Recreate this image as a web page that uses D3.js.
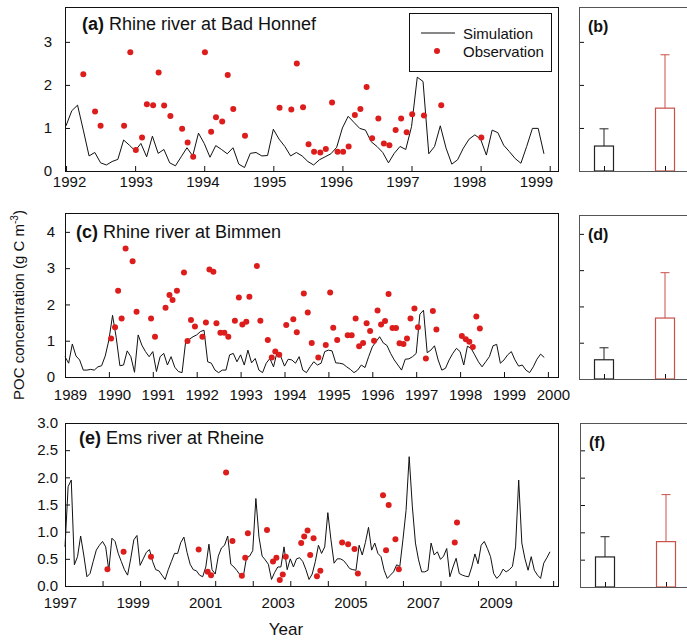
<!DOCTYPE html>
<html>
<head>
<meta charset="utf-8">
<script src="https://cdn.jsdelivr.net/npm/d3@7"></script>
<style>
  body { margin: 0; background: #fff; }
  svg { font-family: Arial, "Liberation Sans", sans-serif; }
</style>
</head>
<body>
<svg id="chart" width="687" height="640"></svg>
<script>
// ---- (a) Rhine river at Bad Honnef, monthly simulation from Jan 1992
const simStartA = 1992;
const simA = [
  1.05, 1.4, 1.53, 0.95, 0.35, 0.43, 0.19, 0.14, 0.22, 0.27, 0.72, 0.6,
  0.47, 0.64, 0.33, 0.81, 0.41, 0.5, 0.19, 0.12, 0.33, 0.54, 0.35, 0.88,
  0.64, 0.32, 0.59, 0.5, 0.4, 0.54, 0.16, 0.08, 0.41, 0.43, 0.35, 0.36,
  0.97, 0.74, 0.57, 0.35, 0.43, 0.35, 0.22, 0.14, 0.26, 0.33, 0.4, 0.55,
  1.0, 1.27, 1.13, 0.99, 0.95, 0.68, 0.57, 0.43, 0.19, 0.41, 0.57, 0.5,
  1.03, 2.18, 2.08, 0.4, 0.57, 1.05, 0.53, 0.16, 0.26, 0.53, 0.74, 0.84,
  0.74, 0.37, 0.95, 0.89, 0.6, 0.45, 0.29, 0.18, 0.57, 0.99, 0.99, 0.4
];
const obsYearsA = [
  1992.25, 1992.42, 1992.50, 1992.84, 1992.93, 1993.01, 1993.10, 1993.17, 1993.26, 1993.34,
  1993.42, 1993.51, 1993.68, 1993.76, 1993.84, 1994.01, 1994.10, 1994.17, 1994.26, 1994.34,
  1994.42, 1994.59, 1995.09, 1995.26, 1995.34, 1995.43, 1995.51, 1995.59, 1995.68, 1995.76,
  1995.85, 1995.93, 1996.01, 1996.09, 1996.18, 1996.26, 1996.35, 1996.43, 1996.52, 1996.60,
  1996.68, 1996.77, 1996.85, 1996.93, 1997.01, 1997.18, 1997.43, 1998.01
];
const obsA = [
  2.25, 1.38, 1.05, 1.05, 2.76, 0.49, 0.78, 1.55, 1.53, 2.29,
  1.52, 1.28, 0.98, 0.66, 0.33, 2.76, 0.91, 1.25, 1.15, 2.23,
  1.44, 0.82, 1.47, 1.43, 2.5, 1.48, 0.62, 0.45, 0.43, 0.51,
  1.59, 0.45, 0.45, 0.57, 1.30, 1.44, 1.95, 0.76, 1.22, 0.64,
  0.60, 0.95, 1.22, 0.9, 1.32, 1.29, 1.53, 0.78
];

// ---- (c) Rhine river at Bimmen, monthly simulation from Jan 1989
const simStartC = 1989;
const simC = [
  0.56, 0.38, 0.91, 0.58, 0.47, 0.19, 0.19, 0.21, 0.19, 0.28, 0.31, 0.58,
  1.02, 1.7, 1.09, 0.31, 0.33, 0.72, 0.56, 0.13, 1.16, 0.88, 0.70, 0.56,
  0.70, 0.15, 0.56, 0.65, 0.33, 0.56, 0.27, 0.15, 0.12, 0.99, 1.04, 1.11,
  1.16, 1.25, 1.29, 0.42, 0.38, 0.19, 0.12, 0.19, 0.19, 0.61, 0.65, 0.42,
  0.61, 0.33, 0.74, 0.39, 0.51, 0.19, 0.12, 0.38, 0.51, 0.28, 0.70, 0.56,
  0.30, 0.49, 0.47, 0.38, 0.56, 0.19, 0.12, 0.28, 0.42, 0.33, 0.38, 0.70,
  0.74, 0.72, 0.39, 0.38, 0.36, 0.28, 0.21, 0.12, 0.19, 0.33, 0.26, 0.56,
  0.83, 0.97, 1.11, 0.94, 0.87, 0.65, 0.47, 0.33, 0.19, 0.49, 0.50, 0.56,
  0.65, 1.73, 1.84, 0.67, 0.74, 0.86, 0.47, 0.19, 0.24, 0.47, 0.65, 0.79,
  0.70, 0.33, 0.85, 0.79, 0.61, 0.42, 0.28, 0.42, 0.56, 0.86, 0.90, 0.38,
  0.47, 0.61, 0.70, 0.47, 0.30, 0.33, 0.19, 0.12, 0.28, 0.49, 0.63, 0.54
];
const obsYearsC = [
  1990.05, 1990.14, 1990.21, 1990.29, 1990.38, 1990.54, 1990.63, 1990.96,
  1991.05, 1991.29, 1991.38, 1991.45, 1991.55, 1991.71, 1991.79, 1991.87, 1991.96,
  1992.13, 1992.21, 1992.29, 1992.38, 1992.45, 1992.54, 1992.63, 1992.72, 1992.87, 1992.96,
  1993.04, 1993.13, 1993.20, 1993.37, 1993.45, 1993.62, 1993.71, 1993.79, 1993.88,
  1994.04, 1994.20, 1994.28, 1994.44, 1994.53, 1994.62, 1994.77, 1994.94,
  1995.04, 1995.11, 1995.20, 1995.44, 1995.53, 1995.62, 1995.70, 1995.79, 1995.87, 1995.95,
  1996.04, 1996.12, 1996.20, 1996.29, 1996.37, 1996.46, 1996.54, 1996.62, 1996.71, 1996.79, 1996.87, 1996.96,
  1997.04, 1997.22, 1997.38, 1997.46,
  1998.04, 1998.13, 1998.21, 1998.29, 1998.37, 1998.45
];
const obsC = [
  1.06, 1.37, 2.38, 1.61, 3.54, 3.19, 1.80, 1.61,
  1.11, 1.91, 2.26, 2.12, 2.38, 2.88, 0.99, 1.57, 1.39,
  1.11, 1.50, 2.96, 2.90, 1.48, 1.22, 1.22, 1.11, 1.55, 2.19,
  1.45, 1.52, 2.21, 3.06, 1.55, 1.02, 0.54, 0.70, 0.61,
  1.43, 1.59, 1.23, 2.30, 1.78, 0.94, 0.54, 0.88,
  2.33, 1.36, 1.02, 1.15, 1.15, 1.61, 0.85, 0.94, 1.48, 1.27,
  1.00, 1.83, 1.45, 1.54, 2.29, 1.35, 1.35, 0.93, 0.91, 1.06, 1.61, 1.89,
  1.37, 0.51, 1.82, 1.31,
  1.13, 1.04, 0.97, 0.83, 1.67, 1.34
];

// ---- (e) Ems river at Rheine, monthly simulation from Jan 1997
const simStartE = 1997;
const simE = [
  0.72, 1.83, 1.95, 0.39, 0.54, 0.92, 0.57, 0.17, 0.23, 0.45, 0.66, 0.75,
  0.82, 0.72, 0.29, 0.88, 0.82, 0.6, 0.45, 0.3, 0.2, 0.5, 0.85, 0.93,
  0.38, 0.5, 0.62, 0.67, 0.45, 0.3, 0.28, 0.2, 0.12, 0.3, 0.45, 0.6,
  0.6, 0.8, 0.9, 0.62, 0.4, 0.3, 0.28, 0.2, 0.17, 0.35, 0.77, 0.3,
  0.22, 0.55, 0.7, 0.75, 0.92, 0.4, 0.35, 0.28, 0.2, 0.18, 0.52, 0.55,
  0.65, 1.61, 0.9, 0.55, 0.48, 0.4, 0.12, 0.25, 0.35, 0.35, 0.72, 0.3,
  0.5, 0.35, 0.5, 0.52, 0.45, 0.3, 0.12, 0.22, 0.45, 0.75, 0.6, 0.72,
  1.35, 0.85, 0.42, 0.5, 0.5, 0.47, 0.4, 0.32, 0.3, 0.29, 0.75, 0.57,
  0.8, 1.08, 0.66, 0.79, 0.6, 0.54, 0.29, 0.14, 0.2, 0.26, 0.39, 0.36,
  0.85, 1.39, 2.38, 1.47, 0.79, 0.48, 0.26, 0.26, 0.29, 0.79, 0.57, 0.63,
  0.49, 0.55, 0.69, 0.17, 0.35, 0.51, 0.23, 0.2, 0.18, 0.17, 0.35, 0.59,
  0.41, 0.75, 0.82, 0.69, 0.54, 0.23, 0.14, 0.2, 0.31, 0.26, 0.3, 0.36,
  0.72, 1.95, 0.79, 0.5, 0.29, 0.54, 0.29, 0.2, 0.14, 0.42, 0.52, 0.63
];
const obsYearsE = [
  1998.13, 1998.56, 1999.29, 2000.56, 2000.80, 2000.89, 2001.29, 2001.46, 2001.71, 2001.80,
  2001.87, 2002.38, 2002.54, 2002.63, 2002.72, 2002.80, 2002.88, 2003.29, 2003.37, 2003.46,
  2003.53, 2003.62, 2003.71, 2003.80, 2004.38, 2004.54, 2004.71, 2004.80, 2005.47, 2005.55,
  2005.62, 2005.80, 2005.89, 2007.38, 2007.44
];
const obsE = [
  0.31, 0.63, 0.54, 0.67, 0.26, 0.20, 2.09, 0.83, 0.19, 0.52,
  0.97, 1.03, 0.45, 0.52, 0.11, 0.21, 0.54, 0.79, 0.91, 1.02,
  0.57, 0.88, 0.18, 0.28, 0.80, 0.77, 0.68, 0.23, 1.67, 0.66,
  1.49, 0.86, 0.31, 0.80, 1.17
];

// ---- (b), (d), (f) mean and standard deviation
const barKeys = ["Simulation", "Observation"];
const meanB = [0.58, 1.46], sdB = [0.40, 1.24];
const meanD = [0.53, 1.68], sdD = [0.33, 1.25];
const meanF = [0.55, 0.83], sdF = [0.37, 0.86];

const lineColor = "#111";
const dotColor = "#dd1c1c";
const barColors = ["#222", "#c8504a"];

const svg = d3.select("#chart");

function styleAxis(g) {
  g.select(".domain").remove();
  g.attr("font-family", null).attr("font-size", 15);
  g.selectAll(".tick line").attr("stroke", "#111");
  g.selectAll(".tick text").attr("fill", "#111");
}

function linePanel(p) {
  const x = d3.scaleLinear().domain(p.xDomain).range([65, 558]);
  const y = d3.scaleLinear().domain(p.yDomain).range([p.bottom, p.top]);
  const g = svg.append("g");

  // year labels in the source sit a little off their ticks
  g.append("g")
    .attr("transform", `translate(0,${p.bottom})`)
    .call(d3.axisBottom(x).tickValues(p.xTicks).tickFormat(p.xFormat)
      .tickSizeInner(-5).tickSizeOuter(0).tickPadding(p.xPad))
    .call(styleAxis)
    .selectAll(".tick text").attr("dx", p.labelShift);

  g.append("g")
    .attr("transform", "translate(65,0)")
    .call(d3.axisLeft(y).tickValues(p.yTicks).tickFormat(p.yFormat)
      .tickSizeInner(-5).tickSizeOuter(0).tickPadding(p.yPad))
    .call(styleAxis);

  const sim = p.sim.map((v, i) => ({ year: p.start + i / 12, value: v }));
  g.append("path")
    .datum(sim)
    .attr("fill", "none")
    .attr("stroke", lineColor)
    .attr("stroke-width", 1)
    .attr("d", d3.line().x(d => x(d.year)).y(d => y(d.value)));

  g.selectAll("circle.obs")
    .data(p.obsYears.map((yr, i) => ({ year: yr, value: p.obs[i] })))
    .join("circle")
    .attr("class", "obs")
    .attr("cx", d => x(d.year))
    .attr("cy", d => y(d.value))
    .attr("r", 3)
    .attr("fill", dotColor);

  g.append("rect")
    .attr("x", 65).attr("y", p.top)
    .attr("width", 558 - 65).attr("height", p.bottom - p.top)
    .attr("fill", "none").attr("stroke", "#111").attr("stroke-width", 1)
    .attr("shape-rendering", "crispEdges");

  const t = g.append("text")
    .attr("x", p.titleX).attr("y", p.titleY)
    .attr("font-size", 18).attr("fill", "#111");
  t.append("tspan").attr("font-weight", "bold").text(p.tag);
  t.append("tspan").text(" " + p.title);
}

function barPanel(p) {
  const x = d3.scalePoint().domain(barKeys).range([p.left + 25, p.left + 86]);
  const y = d3.scaleLinear().domain(p.yDomain).range([p.bottom, p.top]);
  const g = svg.append("g");

  g.append("g")
    .attr("transform", `translate(${p.left},0)`)
    .call(d3.axisLeft(y).tickValues(p.yTicks).tickFormat("")
      .tickSizeInner(-5).tickSizeOuter(0))
    .call(styleAxis);

  g.append("g")
    .attr("transform", `translate(0,${p.bottom})`)
    .call(d3.axisBottom(x).tickFormat("").tickSizeInner(-5).tickSizeOuter(0))
    .call(styleAxis);

  const rows = barKeys.map((k, i) => ({ key: k, mean: p.mean[i], sd: p.sd[i], color: barColors[i] }));

  g.selectAll("line.err")
    .data(rows)
    .join("line")
    .attr("class", "err")
    .attr("x1", d => x(d.key)).attr("x2", d => x(d.key))
    .attr("y1", d => y(d.mean)).attr("y2", d => y(d.mean + d.sd))
    .attr("stroke", d => d.color);

  g.selectAll("line.cap")
    .data(rows)
    .join("line")
    .attr("class", "cap")
    .attr("x1", d => x(d.key) - 4.5).attr("x2", d => x(d.key) + 4.5)
    .attr("y1", d => y(d.mean + d.sd)).attr("y2", d => y(d.mean + d.sd))
    .attr("stroke", d => d.color);

  g.selectAll("rect.bar")
    .data(rows)
    .join("rect")
    .attr("class", "bar")
    .attr("x", d => x(d.key) - 9.5)
    .attr("width", 19)
    .attr("y", d => y(d.mean))
    .attr("height", d => p.bottom - y(d.mean))
    .attr("fill", "none")
    .attr("stroke", d => d.color)
    .attr("stroke-width", 1.2);

  g.append("rect")
    .attr("x", p.left).attr("y", p.top)
    .attr("width", 160).attr("height", p.bottom - p.top)
    .attr("fill", "none").attr("stroke", "#555").attr("stroke-width", 1)
    .attr("shape-rendering", "crispEdges");

  g.append("text")
    .attr("x", p.left + 9).attr("y", p.top + 25)
    .attr("font-size", 16).attr("font-weight", "bold").attr("fill", "#111")
    .text(p.tag);
}

linePanel({
  top: 7, bottom: 171, xDomain: [1991.985, 1999.12], yDomain: [0, 3.81],
  xTicks: d3.range(1992, 2000), xFormat: d3.format("d"), xPad: 5,
  labelShift: d => 3 - 2.4 * (d - 1992),
  yTicks: [0, 1, 2, 3], yFormat: d3.format("d"), yPad: 13,
  start: simStartA, sim: simA, obsYears: obsYearsA, obs: obsA,
  tag: "(a)", title: "Rhine river at Bad Honnef", titleX: 82, titleY: 30
});
linePanel({
  top: 213, bottom: 377, xDomain: [1989, 2000.23], yDomain: [0, 4.52],
  xTicks: d3.range(1989, 2001), xFormat: d3.format("d"), xPad: 12,
  labelShift: () => 5,
  yTicks: [0, 1, 2, 3, 4], yFormat: d3.format("d"), yPad: 10,
  start: simStartC, sim: simC, obsYears: obsYearsC, obs: obsC,
  tag: "(c)", title: "Rhine river at Bimmen", titleX: 76, titleY: 238
});
linePanel({
  top: 423, bottom: 586, xDomain: [1997, 2010.13], yDomain: [0, 3],
  xTicks: d3.range(1997, 2011), xFormat: d => (d % 2 ? d : ""), xPad: 11,
  labelShift: d => -5 - 1.25 * (d - 1997),
  yTicks: d3.range(0, 3.01, 0.5), yFormat: d3.format(".1f"), yPad: 7,
  start: simStartE, sim: simE, obsYears: obsYearsE, obs: obsE,
  tag: "(e)", title: "Ems river at Rheine", titleX: 79, titleY: 444
});

barPanel({ left: 579, top: 7, bottom: 171, yDomain: [0, 3.81], yTicks: [1, 2, 3], mean: meanB, sd: sdB, tag: "(b)" });
barPanel({ left: 579, top: 215, bottom: 379, yDomain: [0, 4.52], yTicks: [1, 2, 3, 4], mean: meanD, sd: sdD, tag: "(d)" });
barPanel({ left: 580, top: 423, bottom: 587, yDomain: [0, 3], yTicks: [0.5, 1, 1.5, 2, 2.5], mean: meanF, sd: sdF, tag: "(f)" });

// legend in panel (a)
const legend = svg.append("g");
legend.append("rect")
  .attr("x", 409).attr("y", 13).attr("width", 142).attr("height", 58)
  .attr("fill", "#fff").attr("stroke", "#111").attr("shape-rendering", "crispEdges");
legend.append("line")
  .attr("x1", 421).attr("x2", 455).attr("y1", 33).attr("y2", 33)
  .attr("stroke", lineColor);
legend.append("circle").attr("cx", 437).attr("cy", 51).attr("r", 3).attr("fill", dotColor);
legend.append("text").attr("x", 463).attr("y", 39).attr("font-size", 15).attr("fill", "#111").text("Simulation");
legend.append("text").attr("x", 463).attr("y", 57).attr("font-size", 15).attr("fill", "#111").text("Observation");

// axis titles
const yTitle = svg.append("text")
  .attr("transform", "translate(24,305) rotate(-90)")
  .attr("text-anchor", "middle")
  .attr("font-size", 15)
  .attr("fill", "#111");
yTitle.append("tspan").text("POC concentration (g C m");
yTitle.append("tspan").attr("font-size", 10).attr("dy", -6).text("-3");
yTitle.append("tspan").attr("dy", 6).text(")");

svg.append("text")
  .attr("x", 286).attr("y", 635)
  .attr("text-anchor", "middle")
  .attr("font-size", 17)
  .attr("fill", "#111")
  .text("Year");
</script>
</body>
</html>
